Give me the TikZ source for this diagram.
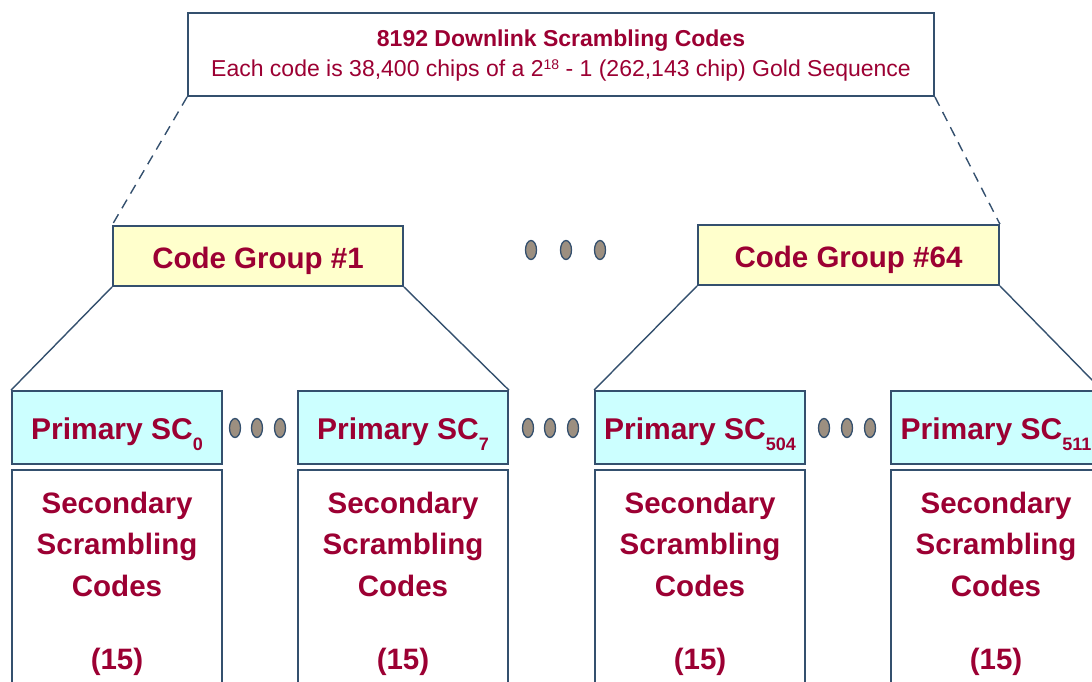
\documentclass[tikz,border=0pt]{standalone}
\usepackage{fontspec}
\setmainfont{Liberation Sans}
\usetikzlibrary{shapes.geometric}
\definecolor{txt}{HTML}{9C0033}
\definecolor{edge}{HTML}{34506E}
\definecolor{yel}{HTML}{FFFFCC}
\definecolor{cya}{HTML}{CCFFFF}
\definecolor{dotc}{HTML}{9C8F80}
\newcommand{\subsc}[1]{\raisebox{-11pt}{\fontsize{18}{18}\selectfont #1}}
\begin{document}
\begin{tikzpicture}[x=1pt,y=-1pt,
  boxst/.style={draw=edge, line width=1.8pt, rectangle, inner sep=0pt},
  topbox/.style={boxst, fill=white, minimum width=746pt, minimum height=83pt},
  groupbox/.style={boxst, fill=yel, minimum height=60pt, text=txt,
    text height=24pt, text depth=0pt,
    font=\fontsize{29.5}{34}\selectfont\bfseries},
  primbox/.style={boxst, fill=cya, minimum width=210pt, minimum height=73pt, text=txt,
    text height=23pt, text depth=0pt,
    font=\fontsize{30}{34}\selectfont\bfseries},
  secbox/.style={boxst, fill=white, minimum width=210pt, minimum height=250pt},
  sectext/.style={anchor=north, inner sep=0pt, align=center, text=txt,
    font=\fontsize{29.5}{41.5}\selectfont\bfseries},
  conn/.style={draw=edge, line width=1.4pt},
  dashc/.style={draw=edge, line width=1.4pt, dash pattern=on 10pt off 7pt},
  dotst/.style={ellipse, draw=edge, line width=1.3pt, fill=dotc, minimum width=11pt, minimum height=19pt, inner sep=0pt}
]
\useasboundingbox (0,0) rectangle (1092,682);
\clip (0,0) rectangle (1092,682);

% top box
\node[topbox] (top) at (561,54.5) {};
\node[anchor=base, inner sep=0pt, text=txt, font=\fontsize{23}{26}\selectfont\bfseries] (t1) at (561,47) {8192 Downlink Scrambling Codes};
\node[anchor=base, inner sep=0pt, text=txt, font=\fontsize{23}{26}\selectfont] (t2) at (561,77) {Each code is 38,400 chips of a 2\raisebox{7pt}{\fontsize{14}{14}\selectfont 18} - 1 (262,143 chip) Gold Sequence};

% code groups
\node[groupbox, minimum width=290pt] (cg1) at (258,256) {Code Group \#1};
\node[groupbox, minimum width=301pt] (cg64) at (848.5,255) {Code Group \#64};

% secondary boxes
\node[secbox] (s0) at (117,595) {};
\node[secbox] (s7) at (403,595) {};
\node[secbox] (s504) at (700,595) {};
\node[secbox] (s511) at (996,595) {};

% primary boxes
\node[primbox] (p0) at (117,427.5) {Primary SC\subsc{0}};
\node[primbox] (p7) at (403,427.5) {Primary SC\subsc{7}};
\node[primbox] (p504) at (700,427.5) {Primary SC\subsc{504}};
\node[primbox] (p511) at (996,427.5) {Primary SC\subsc{511}};

% secondary texts
\node[sectext] (x0) at (117,491.5) {Secondary\\Scrambling\\Codes\\[31.5pt](15)};
\node[sectext] (x7) at (403,491.5) {Secondary\\Scrambling\\Codes\\[31.5pt](15)};
\node[sectext] (x504) at (700,491.5) {Secondary\\Scrambling\\Codes\\[31.5pt](15)};
\node[sectext] (x511) at (996,491.5) {Secondary\\Scrambling\\Codes\\[31.5pt](15)};

% connectors
\draw[dashc] (top.south west) -- (cg1.north west);
\draw[dashc] (top.south east) -- (cg64.north east);
\draw[conn] (cg1.south west) -- (p0.north west);
\draw[conn] (cg1.south east) -- (p7.north east);
\draw[conn] (cg64.south west) -- (p504.north west);
\draw[conn] (cg64.south east) -- (p511.north east);

% ellipsis dots
\node[dotst] (a1) at (531,250) {};
\node[dotst] (a2) at (566,250) {};
\node[dotst] (a3) at (600,250) {};
\node[dotst] (b1) at (235,428) {};
\node[dotst] (b2) at (257,428) {};
\node[dotst] (b3) at (280,428) {};
\node[dotst] (c1) at (528,428) {};
\node[dotst] (c2) at (550,428) {};
\node[dotst] (c3) at (573,428) {};
\node[dotst] (d1) at (824,428) {};
\node[dotst] (d2) at (847,428) {};
\node[dotst] (d3) at (870,428) {};
\end{tikzpicture}
\end{document}
